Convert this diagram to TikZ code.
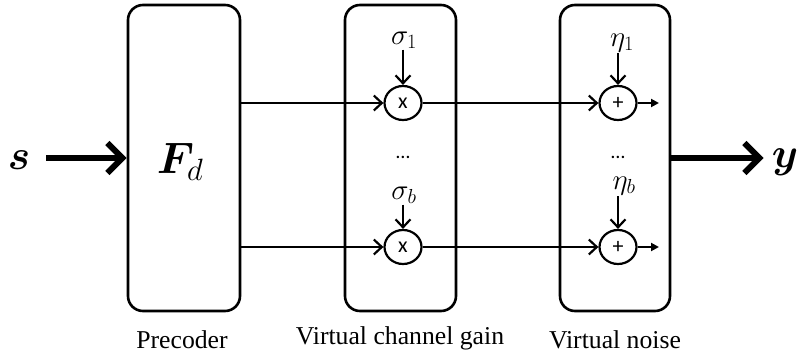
\RequirePackage{fix-cm}
\documentclass[tikz,border=0pt]{standalone}
\usepackage{amsmath}
\usepackage{bm}
\usepackage{fontspec}
\setmainfont{Liberation Serif}
\newfontfamily\opfont{Carlito}
\usetikzlibrary{arrows.meta,shapes.geometric}

\tikzset{
  block/.style={draw, line width=2.6pt, rounded corners=15pt, minimum height=306pt, inner sep=0pt},
  opnode/.style={draw, ellipse, line width=2.2pt, minimum width=37pt, minimum height=34pt, inner sep=0pt, font=\opfont\fontsize{22}{22}\selectfont},
  sig/.style={font=\fontsize{29}{29}\selectfont, inner sep=1pt},
  dotsnode/.style={font=\opfont\fontsize{20}{20}\selectfont, inner sep=0pt},
  caption/.style={font=\fontsize{25.7}{30}\selectfont, inner sep=0pt},
  bigsym/.style={font=\fontsize{42}{42}\selectfont, inner sep=0pt},
  thinarr/.style={line width=2.2pt, -{Straight Barb[length=8pt, width=15pt, line width=2.2pt]}},
  outarr/.style={line width=2.2pt, -{Triangle[length=8pt, width=8pt]}},
  bigarr/.style={line width=6pt, -{Straight Barb[length=15pt, width=30pt, line width=6pt]}}
}

\begin{document}
\begin{tikzpicture}[x=1pt, y=-1pt]
\useasboundingbox (0,0) rectangle (797,356);

% the three stages
\node[block, minimum width=112pt] (pre) at (184,158) {};
\node[block, minimum width=111pt] (gain) at (400.5,158) {};
\node[block, minimum width=110pt] (noise) at (615,158) {};

\node[bigsym, font=\fontsize{44}{44}\selectfont] at (180,162) {$\bm{F}_{d}$};

% input and output
\node[bigsym] (s) at (19,160) {$\bm{s}$};
\node[bigsym] (y) at (785,162) {$\bm{y}$};
\draw[bigarr, shorten <=16pt] (s.east |- pre.west) -- (pre.west);
\draw[bigarr, shorten >=8pt] (noise.east) -- (noise.east -| y.west);

% multipliers
\node[opnode] (m1) at (403,103) {x};
\node[opnode] (m2) at (403,247) {x};
% adders
\node[opnode] (a1) at (618,103) {+};
\node[opnode] (a2) at (618,247) {+};

\node[sig] (s1) at (404,40) {$\sigma_1$};
\node[sig] (sb) at (404,195) {$\sigma_b$};
\node[sig] (e1) at (622,43) {$\eta_1$};
\node[sig] (eb) at (624,186) {$\eta_b$};

\node[dotsnode] (d1) at (403,157) {\dots};
\node[dotsnode] (d2) at (618,157) {\dots};

\draw[thinarr] (s1.south -| m1) -- (m1.north);
\draw[thinarr] (sb.south -| m2) -- (m2.north);
\draw[thinarr] (e1.south -| a1) -- (a1.north);
\draw[thinarr] (eb.south -| a2) -- (a2.north);

\draw[thinarr] (pre.east |- m1) -- (m1.west);
\draw[thinarr] (pre.east |- m2) -- (m2.west);
\draw[thinarr] (m1.east) -- (a1.west);
\draw[thinarr] (m2.east) -- (a2.west);

\coordinate (o1) at (659,103);
\coordinate (o2) at (659,247);
\draw[outarr] (a1.east) -- (o1);
\draw[outarr] (a2.east) -- (o2);

% stage captions
\node[caption] at (182,340) {Precoder};
\node[caption] at (400,338) {Virtual channel gain};
\node[caption] at (615,340) {Virtual noise};
\end{tikzpicture}
\end{document}
